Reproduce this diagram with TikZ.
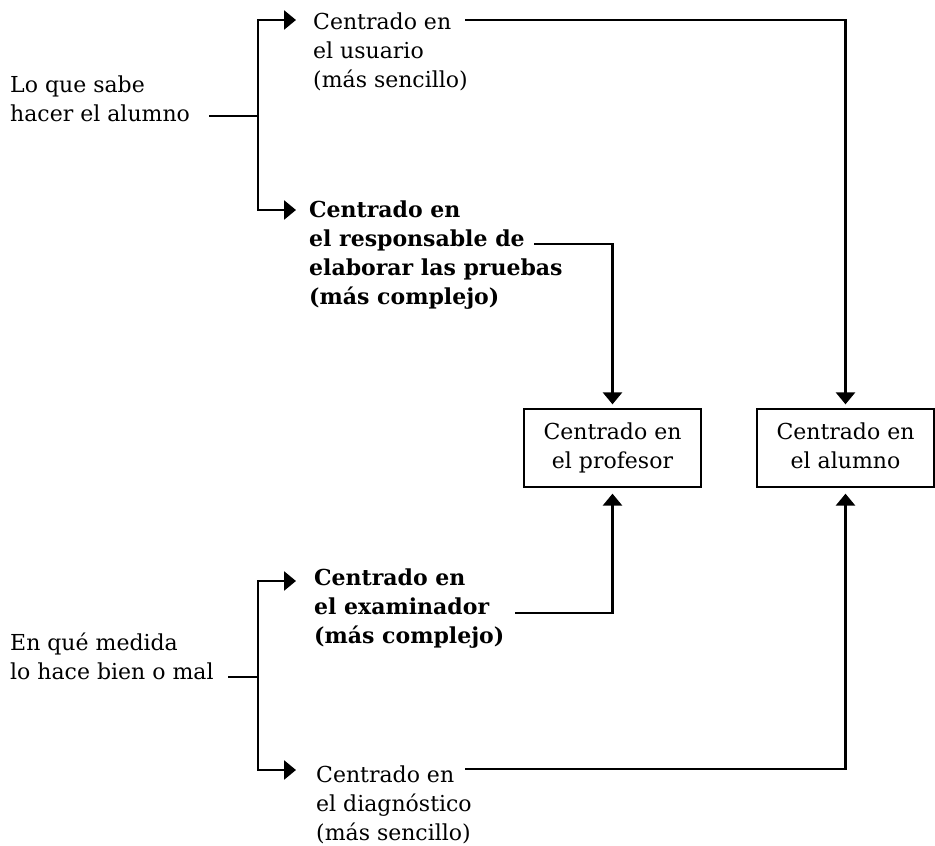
\documentclass[tikz,border=0pt]{standalone}
\usepackage{fontspec}
\setmainfont{DejaVu Serif}
\usetikzlibrary{arrows.meta}
\newcommand\lines[1]{\begin{tabular}[t]{@{}l@{}}#1\end{tabular}}
\newcommand\clines[1]{\begin{tabular}{@{}c@{}}#1\end{tabular}}
\tikzset{
  txt/.style={inner sep=0pt, anchor=base west},
  strong/.style={font=\fontsize{22}{29}\selectfont\bfseries},
  head/.tip={Triangle[length=12pt,width=19pt]},
  conn/.style={line width=2.7pt, line cap=butt, line join=miter},
  tip/.style={-head},
  box/.style={draw, line width=1.3pt, minimum width=177pt, minimum height=78pt, inner sep=0pt}
}
\begin{document}
\begin{tikzpicture}[x=1pt, y=-1pt, font=\fontsize{22}{29}\selectfont]
\useasboundingbox (0,0) rectangle (935,846);

% outcome boxes
\node[box] (prof) at (612.5,448) {\clines{Centrado en\\el profesor}};
\node[box] (alum) at (845.5,448) {\clines{Centrado en\\el alumno}};

% upper group
\node[txt] (saber) at (10,92) {\lines{Lo que sabe\\hacer el alumno}};
\node[txt] (usr) at (313,29) {\lines{Centrado en\\el usuario\\(más sencillo)}};
\node[txt, strong] (resp) at (309,217)
  {\lines{Centrado en\\el responsable de\\elaborar las pruebas\\(más complejo)}};

% lower group
\node[txt] (medida) at (10,650) {\lines{En qué medida\\lo hace bien o mal}};
\node[txt, strong] (exam) at (314,585)
  {\lines{Centrado en\\el examinador\\(más complejo)}};
\node[txt] (diag) at (316,782) {\lines{Centrado en\\el diagnóstico\\(más sencillo)}};

% connector anchors
\coordinate (s0) at (209,116);
\coordinate (s1) at (258,116);
\coordinate (ut) at (258,20);
\coordinate (rt) at (258,210);
\coordinate (u0) at (465,20);
\coordinate (r0) at (534,244);

\coordinate (m0) at (228,677);
\coordinate (m1) at (258,677);
\coordinate (et) at (258,581);
\coordinate (dt) at (258,770);
\coordinate (e0) at (515,613);
\coordinate (d0) at (465,769);

% upper bracket
\draw[conn] (s0) -- (s1);
\draw[conn, head-head, shorten <=17pt, shorten >=17pt]
  (ut -| usr.west) -- (ut) -- (rt) -- (rt -| usr.west);
\draw[conn, tip, shorten >=4pt] (u0) -| (alum.north);
\draw[conn, tip, shorten >=4pt] (r0) -| (prof.north);

% lower bracket
\draw[conn] (m0) -- (m1);
\draw[conn, head-head, shorten <=17pt, shorten >=17pt]
  (et -| usr.west) -- (et) -- (dt) -- (dt -| usr.west);
\draw[conn, tip, shorten >=6pt] (e0) -| (prof.south);
\draw[conn, tip, shorten >=6pt] (d0) -| (alum.south);
\end{tikzpicture}
\end{document}
